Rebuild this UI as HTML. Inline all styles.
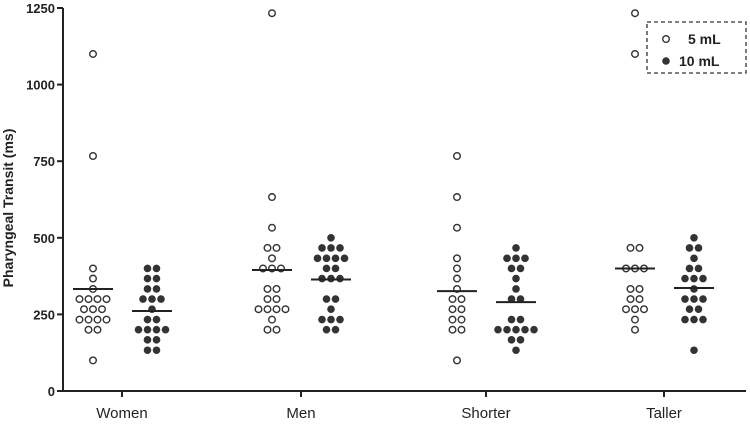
<!DOCTYPE html>
<html><head><meta charset="utf-8"><style>
html,body{margin:0;padding:0;background:#fff;}
svg{display:block;font-family:"Liberation Sans",Arial,sans-serif;}
</style></head><body>
<svg id="chart" width="750" height="426"></svg>
<script>
const categories = ["Women","Men","Shorter","Taller"];
const women5 = [100,200,200,233,233,233,233,267,267,267,300,300,300,300,333,367,400,767,1100];
const women10 = [133,133,167,167,200,200,200,200,233,233,267,300,300,300,333,333,367,367,400,400];
const men5 = [200,200,233,267,267,267,267,300,300,333,333,400,400,400,433,467,467,533,633,1233];
const men10 = [200,200,233,233,233,267,300,300,367,367,367,400,400,433,433,433,433,467,467,467,500];
const shorter5 = [100,200,200,233,233,267,267,300,300,333,367,400,433,533,633,767];
const shorter10 = [133,167,167,200,200,200,200,200,233,233,300,300,333,367,400,400,433,433,433,467];
const taller5 = [200,233,267,267,267,300,300,333,333,400,400,400,467,467,1100,1233];
const taller10 = [133,233,233,233,267,267,300,300,300,333,367,367,367,400,400,433,467,467,500];
const medians5 = [333,395,326,400];
const medians10 = [261,364,290,336];
const yTicks = [0,250,500,750,1000,1250];

const NS="http://www.w3.org/2000/svg";
const svg=document.getElementById('chart');
function mk(tag,attrs,parent){const e=document.createElementNS(NS,tag);for(const k in attrs)e.setAttribute(k,attrs[k]);(parent||svg).appendChild(e);return e;}
const y0=391,y1=8,yMax=1250;
function yScale(v){return y0-(v/yMax)*(y0-y1);}
const groupX=[122,301,486,664];
function xScale(i,sub){return groupX[i]+(sub===0?-29:30);}

const ax=mk('line',{x1:63,y1:y1,x2:63,y2:y0+1,stroke:'#222','stroke-width':2});


const bx=mk('line',{x1:62,y1:y0,x2:746,y2:y0,stroke:'#222','stroke-width':2});


yTicks.forEach(t=>{
  const y=yScale(t);
  const tk=mk('line',{x1:57,y1:y,x2:63,y2:y,stroke:'#222','stroke-width':2});
  
  
  const tx=mk('text',{x:55,y:y+5,'text-anchor':'end','font-size':13,'font-weight':'bold',fill:'#222'});
  tx.textContent=t;
  
  
});
categories.forEach((c,i)=>{
  const tk=mk('line',{x1:groupX[i],y1:y0,x2:groupX[i],y2:y0+6,stroke:'#222','stroke-width':2});
  
  
  const tx=mk('text',{x:groupX[i],y:418,'text-anchor':'middle','font-size':15,fill:'#222'});
  tx.textContent=c;
  
  
});
const yt=mk('text',{x:0,y:0,'text-anchor':'middle','font-size':14,'font-weight':'bold',fill:'#222',transform:'translate(13,208) rotate(-90)'});
yt.textContent='Pharyngeal Transit (ms)';



const series=[[women5,women10],[men5,men10],[shorter5,shorter10],[taller5,taller10]];
series.forEach((pair,i)=>{
  pair.forEach((vals,s)=>{
    const cx=xScale(i,s);
    const counts={};
    vals.forEach(v=>{counts[v]=(counts[v]||0)+1;});
    Object.keys(counts).forEach(k=>{
      const n=counts[k],v=+k;
      for(let j=0;j<n;j++){
        const x=cx+(j-(n-1)/2)*9;
        const d=mk('circle',{cx:x,cy:yScale(v),r:s===0?3.3:3.8,fill:s===0?'#fff':'#333',stroke:'#333','stroke-width':s===0?1.4:0});
        
        
      }
    });
    const m=(s===0?medians5:medians10)[i];
    const ml=mk('line',{x1:cx-20,y1:yScale(m),x2:cx+20,y2:yScale(m),stroke:'#222','stroke-width':2});
    
    
  });
});

const lg=mk('g',{});


mk('rect',{x:647,y:22,width:99,height:51,fill:'#fff',stroke:'#333','stroke-width':1.3,'stroke-dasharray':'4,3'},lg);
const c1=mk('circle',{cx:666,cy:39,r:3.3,fill:'#fff',stroke:'#333','stroke-width':1.4},lg);


const t1=mk('text',{x:688,y:44,'font-size':14,'font-weight':'bold',fill:'#222'},lg);
t1.textContent='5 mL';


const c2=mk('circle',{cx:666,cy:61,r:3.8,fill:'#333'},lg);


const t2=mk('text',{x:679,y:66,'font-size':14,'font-weight':'bold',fill:'#222'},lg);
t2.textContent='10 mL';


</script>
</body></html>
